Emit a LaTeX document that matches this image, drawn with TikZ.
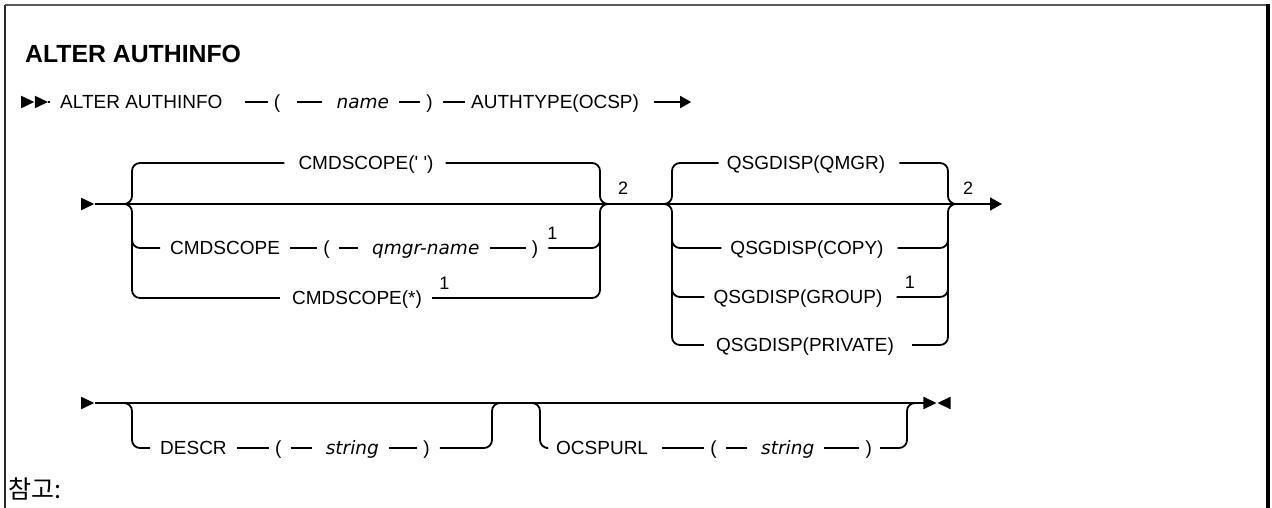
\documentclass[tikz,border=0pt]{standalone}
\usepackage{fontspec}
\setmainfont{Liberation Sans}
\newfontfamily\argfont{DejaVu Sans}
\newfontfamily\kofont{Noto Sans CJK KR}
\usetikzlibrary{positioning, arrows.meta, shapes.geometric}

\begin{document}
\begin{tikzpicture}[x=1pt, y=-1pt,
  tok/.style={inner xsep=0pt, inner ysep=0pt, text height=13.6pt, text depth=0pt,
              font=\fontsize{19}{22}\selectfont},
  arg/.style={tok, font=\argfont\itshape\fontsize{18.5}{22}\selectfont},
  sup/.style={inner sep=0pt, text height=13pt, text depth=0pt, font=\fontsize{18}{20}\selectfont},
  rail/.style={line width=1.8pt, rounded corners=8pt},
  seg/.style={rail, shorten <=#1, shorten >=6pt},
  seg/.default=10pt,
  argseg/.style={rail, shorten <=#1, shorten >=14pt},
  argseg/.default=9pt,
  tipR/.style={isosceles triangle, isosceles triangle stretches, fill, draw=none, inner sep=0pt,
               minimum width=12.5pt, minimum height=13pt},
  tipL/.style={tipR, shape border rotate=180},
]
\useasboundingbox (0,0) rectangle (1272,508);

% === Frame ===
\draw[line width=2pt, black!85] (5,508) -- (5,5);
\draw[line width=2pt, black!65] (5,5) -- (1268,5);
\draw[line width=3.5pt] (1268,4) -- (1268,508);

\node[anchor=west, inner sep=0pt, text height=17.8pt, text depth=0pt,
      font=\bfseries\fontsize{24.8}{28}\selectfont] (title) at (25,54) {ALTER AUTHINFO};

% === Row 1 ===
\node[tipR, anchor=west] (h1a) at (21,102) {};
\node[tipR, anchor=west] (h1b) at (h1a.apex) {};
\node[tok, anchor=west] (alter) at (60,102) {ALTER AUTHINFO};
\node[tok, right=51pt of alter] (lp1) {(};
\node[arg, right=56pt of lp1] (nm) {name};
\node[tok, right=37pt of nm] (rp1) {)};
\node[tok, right=38pt of rp1] (auth) {AUTHTYPE(OCSP)};
\coordinate[right=52pt of auth] (e1);

\draw[rail, shorten >=10pt] (h1b) -- (alter);
\draw[seg=22pt] (alter) -- (lp1);
\draw[argseg=17pt] (lp1) -- (nm);
\draw[seg] (nm) -- (rp1);
\draw[seg] (rp1) -- (auth);
\draw[rail, shorten <=15pt, -{Triangle[length=11pt,width=12pt]}] (auth) -- (e1);

% === Row 2: CMDSCOPE and QSGDISP ===
\node[tipR, anchor=west] (h2) at (81,204) {};
\coordinate (j1) at (124,204);
\coordinate (j2) at (608,204);
\coordinate (j3) at (664,204);
\coordinate (j4) at (956,204);
\coordinate (e2) at (1002,204);
\draw[rail, -{Triangle[length=12pt,width=13pt]}] (h2) -- (j1) -- (j2) -- (j3) -- (j4) -- (e2);

\node[tok] (cs1) at (366,163) {CMDSCOPE(\textquotesingle\ \textquotesingle)};
\node[tok, anchor=west] (cs2) at (170,248) {CMDSCOPE};
\node[tok, right=43pt of cs2] (lp2) {(};
\node[arg, right=42pt of lp2] (qm) {qmgr-name};
\node[tok, right=52pt of qm] (rp2) {)};
\node[sup, above right=8pt and 9pt of rp2.east] (n1a) {1};
\node[tok] (cs3) at (357,298) {CMDSCOPE(*)};
\node[sup, above right=8pt and 17pt of cs3.east] (n1b) {1};
\node[sup, above right=9pt and 10pt of j2] (n2a) {2};

\draw[rail, shorten >=14pt] (j1) -| (132,163) -- (cs1);
\draw[rail, shorten <=12pt] (cs1) -| (600,204) -- (j2);
\draw[rail, shorten >=10pt] (132,236) |- (cs2);
\draw[seg] (cs2) -- (lp2);
\draw[argseg] (lp2) -- (qm);
\draw[seg] (qm) -- (rp2);
\draw[rail, shorten <=10pt] (rp2) -| (600,236);
\draw[rail, shorten >=12pt] (j1) -| (132,298) -- (cs3);
\draw[rail, shorten <=10pt] (cs3) -| (600,204) -- (j2);

\node[tok] (q1) at (806,163) {QSGDISP(QMGR)};
\node[tok] (q2) at (807,248) {QSGDISP(COPY)};
\node[tok] (q3) at (798,297) {QSGDISP(GROUP)};
\node[tok] (q4) at (805,345) {QSGDISP(PRIVATE)};
\node[sup, above right=8pt and 22pt of q3.east] (n1c) {1};
\node[sup, above right=9pt and 7pt of j4] (n2b) {2};

\draw[rail, shorten >=8pt] (j3) -| (672,163) -- (q1);
\draw[rail, shorten <=14pt] (q1) -| (948,204) -- (j4);
\draw[rail, shorten >=9pt] (672,236) |- (q2);
\draw[rail, shorten <=14pt] (q2) -| (948,236);
\draw[rail, shorten >=9pt] (672,285) |- (q3);
\draw[rail, shorten <=14pt] (q3) -| (948,285);
\draw[rail, shorten >=12pt] (j3) -| (672,345) -- (q4);
\draw[rail, shorten <=18pt] (q4) -| (948,204) -- (j4);

% === Row 3: DESCR and OCSPURL ===
\node[tipR, anchor=west] (h3) at (81,403) {};
\coordinate (j5) at (124,403);
\coordinate (j6) at (500,403);
\coordinate (j7) at (532,403);
\coordinate (j8) at (915,403);
\node[tipR, anchor=apex] (t3a) at (937,403) {};
\node[tipL, anchor=apex] (t3b) at (937,403) {};
\draw[rail] (h3) -- (j5) -- (j6) -- (j7) -- (j8) -- (t3a);

\node[tok, anchor=west] (d1) at (160,448) {DESCR};
\node[tok, right=48pt of d1] (lp3) {(};
\node[arg, right=44pt of lp3] (str1) {string};
\node[tok, right=44pt of str1] (rp3) {)};
\draw[rail, shorten >=10pt] (j5) -| (132,448) -- (d1);
\draw[seg] (d1) -- (lp3);
\draw[argseg] (lp3) -- (str1);
\draw[seg] (str1) -- (rp3);
\draw[rail, shorten <=10pt] (rp3) -| (492,403) -- (j6);

\node[tok, anchor=west] (o1) at (556,448) {OCSPURL};
\node[tok, right=62pt of o1] (lp4) {(};
\node[arg, right=44pt of lp4] (str2) {string};
\node[tok, right=51pt of str2] (rp4) {)};
\draw[rail, shorten >=10pt] (j7) -| (540,448) -- (o1);
\draw[seg=14pt] (o1) -- (lp4);
\draw[argseg] (lp4) -- (str2);
\draw[seg] (str2) -- (rp4);
\draw[rail, shorten <=8pt] (rp4) -| (907,403) -- (j8);

% === Notes ===
\node[anchor=west, inner sep=0pt, font=\kofont\fontsize{25}{28}\selectfont] (note) at (8,489) {참고:};
\end{tikzpicture}
\end{document}
